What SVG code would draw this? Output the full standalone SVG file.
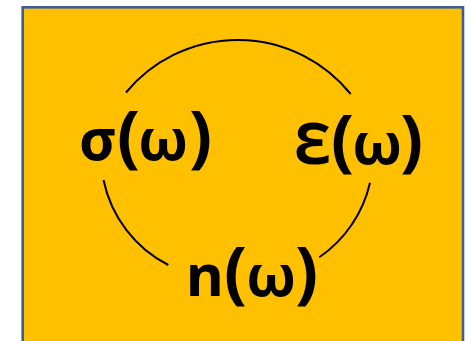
<svg xmlns="http://www.w3.org/2000/svg" width="473" height="341" viewBox="0 0 473 341">
<style>
.lbl{font-family:"Noto Sans",sans-serif;font-weight:bold;font-size:58px;fill:#000}
.par{font-size:68px}
.arc{fill:none;stroke:#000;stroke-width:2}
</style>
<rect x="0" y="0" width="473" height="341" fill="#fff"/>
<g id="panel"><rect x="22.7" y="7.3" width="440.3" height="345" fill="#FFC000" stroke="#3A5E9A" stroke-width="2.6"/></g>
<g id="connectors">
<path class="arc" d="M126,92.5 A145,145 0 0 1 350.7,94"/>
<path class="arc" d="M103.5,180 A124,124 0 0 0 168.3,265"/>
<path class="arc" d="M370,182.7 A124,124 0 0 1 319.3,257.3"/>
</g>
<g id="sigma"><text class="lbl" y="160"><tspan x="79">σ</tspan><tspan class="par" x="117">(</tspan><tspan x="138">ω</tspan><tspan class="par" x="189">)</tspan></text></g>
<g id="epsilon"><text class="lbl" y="164"><tspan x="294">Ɛ</tspan><tspan class="par" x="331">(</tspan><tspan x="352">ω</tspan><tspan class="par" x="400">)</tspan></text></g>
<g id="n"><text class="lbl" y="296"><tspan x="186">n</tspan><tspan class="par" x="224">(</tspan><tspan x="246">ω</tspan><tspan class="par" x="295">)</tspan></text></g>
</svg>
